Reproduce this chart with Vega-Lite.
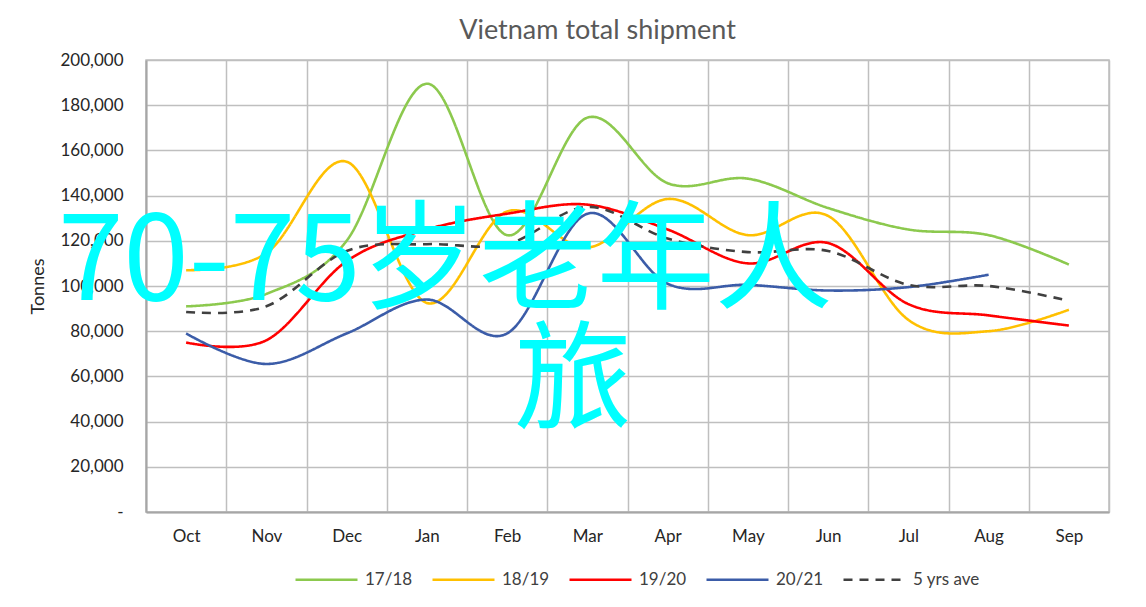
{
  "$schema": "https://vega.github.io/schema/vega-lite/v6.json",
  "autosize": {"type": "none"},
  "width": 963,
  "height": 452,
  "padding": {"left": 146, "top": 60, "right": 37, "bottom": 95},
  "background": "white",
  "title": {"text": "Vietnam total shipment", "font": "Lato", "fontSize": 27, "fontWeight": "normal", "color": "#595959", "dx": -30, "offset": 6},
  "config": {
    "view": {"stroke": "#bfbfbf", "strokeWidth": 1.5},
    "axis": {"labelFont": "Lato", "titleFont": "Lato", "labelColor": "#262626", "titleColor": "#262626"}
  },
  "datasets": {
    "ship": [
      {"month": "Oct", "series": "17/18", "value": 91000},
      {"month": "Nov", "series": "17/18", "value": 96500},
      {"month": "Dec", "series": "17/18", "value": 120000},
      {"month": "Jan", "series": "17/18", "value": 189500},
      {"month": "Feb", "series": "17/18", "value": 122500},
      {"month": "Mar", "series": "17/18", "value": 174500},
      {"month": "Apr", "series": "17/18", "value": 145500},
      {"month": "May", "series": "17/18", "value": 147500},
      {"month": "Jun", "series": "17/18", "value": 134500},
      {"month": "Jul", "series": "17/18", "value": 125000},
      {"month": "Aug", "series": "17/18", "value": 122500},
      {"month": "Sep", "series": "17/18", "value": 109500},
      {"month": "Oct", "series": "18/19", "value": 107000},
      {"month": "Nov", "series": "18/19", "value": 114500},
      {"month": "Dec", "series": "18/19", "value": 155000},
      {"month": "Jan", "series": "18/19", "value": 92500},
      {"month": "Feb", "series": "18/19", "value": 133000},
      {"month": "Mar", "series": "18/19", "value": 117000},
      {"month": "Apr", "series": "18/19", "value": 138500},
      {"month": "May", "series": "18/19", "value": 122500},
      {"month": "Jun", "series": "18/19", "value": 131000},
      {"month": "Jul", "series": "18/19", "value": 85000},
      {"month": "Aug", "series": "18/19", "value": 80000},
      {"month": "Sep", "series": "18/19", "value": 89500},
      {"month": "Oct", "series": "19/20", "value": 75000},
      {"month": "Nov", "series": "19/20", "value": 76000},
      {"month": "Dec", "series": "19/20", "value": 111000},
      {"month": "Jan", "series": "19/20", "value": 125000},
      {"month": "Feb", "series": "19/20", "value": 132000},
      {"month": "Mar", "series": "19/20", "value": 136000},
      {"month": "Apr", "series": "19/20", "value": 125000},
      {"month": "May", "series": "19/20", "value": 110000},
      {"month": "Jun", "series": "19/20", "value": 119000},
      {"month": "Jul", "series": "19/20", "value": 92000},
      {"month": "Aug", "series": "19/20", "value": 87000},
      {"month": "Sep", "series": "19/20", "value": 82500},
      {"month": "Oct", "series": "20/21", "value": 79000},
      {"month": "Nov", "series": "20/21", "value": 65500},
      {"month": "Dec", "series": "20/21", "value": 79000},
      {"month": "Jan", "series": "20/21", "value": 94000},
      {"month": "Feb", "series": "20/21", "value": 79000},
      {"month": "Mar", "series": "20/21", "value": 132000},
      {"month": "Apr", "series": "20/21", "value": 101000},
      {"month": "May", "series": "20/21", "value": 100500},
      {"month": "Jun", "series": "20/21", "value": 98000},
      {"month": "Jul", "series": "20/21", "value": 99500},
      {"month": "Aug", "series": "20/21", "value": 105000},
      {"month": "Oct", "series": "5 yrs ave", "value": 88500},
      {"month": "Nov", "series": "5 yrs ave", "value": 91000},
      {"month": "Dec", "series": "5 yrs ave", "value": 115500},
      {"month": "Jan", "series": "5 yrs ave", "value": 118500},
      {"month": "Feb", "series": "5 yrs ave", "value": 118500},
      {"month": "Mar", "series": "5 yrs ave", "value": 135000},
      {"month": "Apr", "series": "5 yrs ave", "value": 121000},
      {"month": "May", "series": "5 yrs ave", "value": 115000},
      {"month": "Jun", "series": "5 yrs ave", "value": 115500},
      {"month": "Jul", "series": "5 yrs ave", "value": 100500},
      {"month": "Aug", "series": "5 yrs ave", "value": 100000},
      {"month": "Sep", "series": "5 yrs ave", "value": 93500}
    ],
    "wm": [
      {"label": "70-75岁老年人", "pos": 3.73, "value": 109300},
      {"label": "旅", "pos": 5.32, "value": 56200}
    ]
  },
  "layer": [
    {
      "data": {"name": "ship"},
      "mark": {"type": "line", "interpolate": "cardinal"},
      "encoding": {
        "x": {
          "field": "month", "type": "ordinal",
          "sort": ["Oct", "Nov", "Dec", "Jan", "Feb", "Mar", "Apr", "May", "Jun", "Jul", "Aug", "Sep"],
          "scale": {"paddingInner": 0, "paddingOuter": 0},
          "axis": {
            "title": null, "tickBand": "extent", "grid": true, "gridColor": "#bfbfbf", "gridWidth": 1.5,
            "ticks": false, "domainColor": "#a6a6a6", "domainWidth": 2, "labelAngle": 0, "labelFontSize": 17, "labelPadding": 16
          }
        },
        "y": {
          "field": "value", "type": "quantitative",
          "scale": {"domain": [0, 200000], "nice": false},
          "axis": {
            "title": "Tonnes", "titleFontSize": 18, "titleFontWeight": "normal", "titlePadding": 12,
            "values": [0, 20000, 40000, 60000, 80000, 100000, 120000, 140000, 160000, 180000, 200000],
            "labelExpr": "datum.value === 0 ? '-' : format(datum.value, ',')",
            "labelFontSize": 17, "labelPadding": 23, "ticks": false,
            "grid": true, "gridColor": "#bfbfbf", "gridWidth": 1.5, "domainColor": "#a6a6a6", "domainWidth": 2
          }
        },
        "color": {
          "field": "series", "type": "nominal",
          "scale": {"domain": ["17/18", "18/19", "19/20", "20/21", "5 yrs ave"], "range": ["#8cc94e", "#ffc000", "#ff0000", "#3b5ca8", "#404040"]},
          "legend": {
            "orient": "none", "legendX": 148, "legendY": 487, "direction": "horizontal", "title": null,
            "symbolType": "stroke", "symbolSize": 3844, "labelFont": "Lato", "labelFontSize": 17, "labelColor": "#404040",
            "columnPadding": 14, "labelOffset": 6
          }
        },
        "strokeDash": {
          "field": "series", "type": "nominal",
          "scale": {"domain": ["17/18", "18/19", "19/20", "20/21", "5 yrs ave"], "range": [[1, 0], [1, 0], [1, 0], [1, 0], [9, 7]]}
        },
        "strokeWidth": {
          "field": "series", "type": "nominal",
          "scale": {"domain": ["17/18", "18/19", "19/20", "20/21", "5 yrs ave"], "range": [2.6, 2.6, 2.6, 2.6, 3.5]}
        }
      }
    },
    {
      "data": {"name": "wm"},
      "mark": {"type": "text", "font": "Noto Sans CJK SC", "fontSize": 118, "color": "#00ffff", "align": "center", "baseline": "middle"},
      "encoding": {
        "x": {"field": "pos", "type": "quantitative", "scale": {"domain": [0, 12], "nice": false}, "axis": null},
        "y": {"field": "value", "type": "quantitative"},
        "text": {"field": "label"}
      }
    }
  ],
  "resolve": {"scale": {"x": "independent"}}
}
